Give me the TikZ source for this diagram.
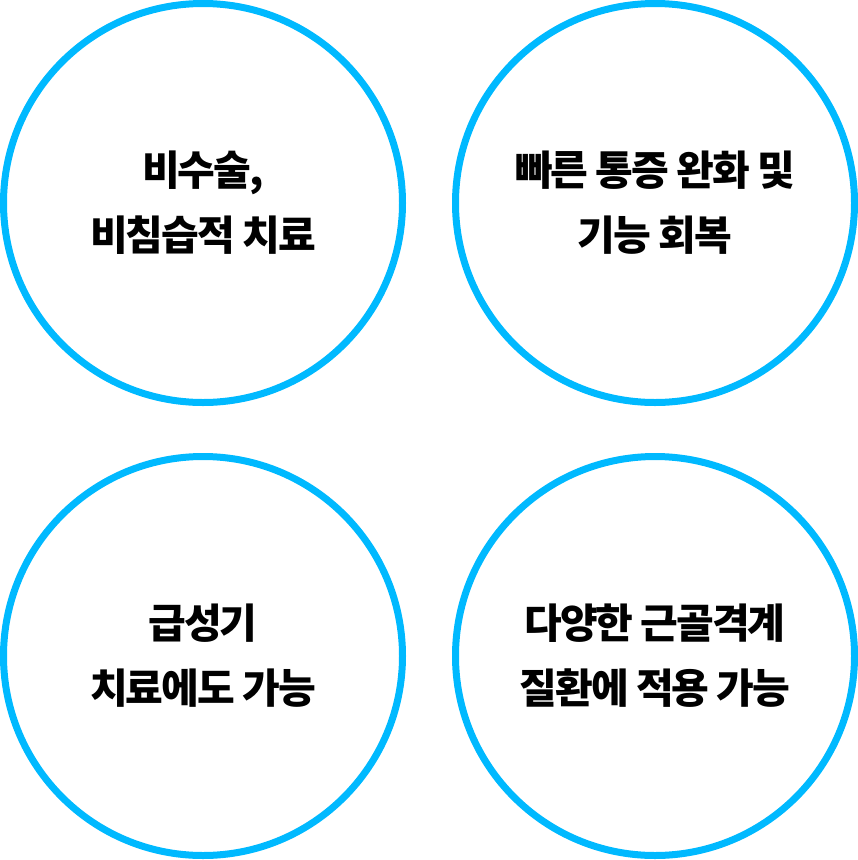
\documentclass[tikz,border=0pt]{standalone}
\usepackage{fontspec}
\setmainfont{Noto Sans CJK KR}[LetterSpace=-5]
\definecolor{ringblue}{HTML}{00B9FF}

\begin{document}
\begin{tikzpicture}[x=1pt,y=-1pt]
      \useasboundingbox (0,0) rectangle (858,860);
      \tikzset{ring/.style={draw=ringblue, line width=7pt, circle, minimum size=399pt, inner sep=0pt},
        caption/.style={font=\fontsize{41}{65}\selectfont\bfseries, align=center}}
      \foreach \name/\x/\y in {nsurg/203/203, relief/655/203, acute/203/656, musc/655/656} {
        \node[ring] (\name) at (\x,\y) {};
      }
      \node[caption] (nsurgtxt) at (nsurg) {비수술,\\비침습적 치료};
      \node[caption] (relieftxt) at (relief) {빠른 통증 완화 및\\기능 회복};
      \node[caption] (acutetxt) at (acute) {급성기\\치료에도 가능};
      \node[caption] (musctxt) at (musc) {다양한 근골격계\\질환에 적용 가능};
    \end{tikzpicture}
\end{document}
